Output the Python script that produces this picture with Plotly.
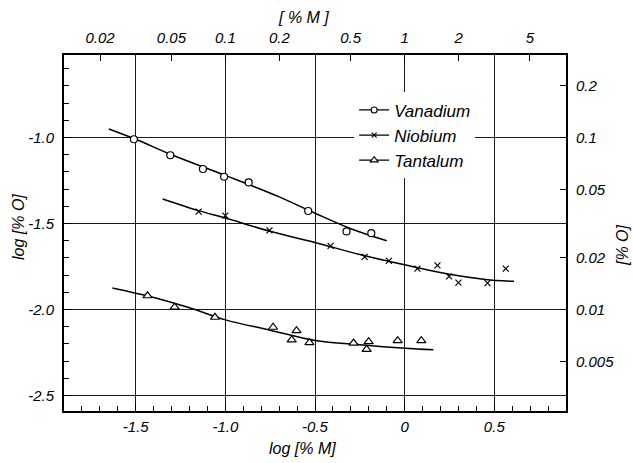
import numpy as np
import plotly.graph_objects as go

# ---- data ----
van_x = [-1.51, -1.307, -1.125, -1.007, -0.870, -0.538, -0.324, -0.186]
van_y = [-1.01, -1.103, -1.183, -1.228, -1.261, -1.427, -1.546, -1.556]
van_curve_x = [-1.65, -1.5, -1.3, -1.0, -0.7, -0.5, -0.3, -0.1]
van_curve_y = [-0.95, -1.01, -1.10, -1.22, -1.345, -1.44, -1.53, -1.60]

nb_x = [-1.149, -1.0, -0.754, -0.413, -0.223, -0.088, 0.071, 0.183, 0.248, 0.30, 0.462, 0.564]
nb_y = [-1.431, -1.454, -1.540, -1.630, -1.694, -1.717, -1.762, -1.743, -1.807, -1.844, -1.846, -1.762]
nb_curve_x = [-1.35, -1.15, -1.0, -0.75, -0.5, -0.25, 0.0, 0.25, 0.45, 0.61]
nb_curve_y = [-1.357, -1.425, -1.468, -1.545, -1.61, -1.68, -1.74, -1.795, -1.825, -1.836]

ta_x = [-1.434, -1.283, -1.058, -0.734, -0.603, -0.63, -0.531, -0.285, -0.201, -0.212, -0.039, 0.093]
ta_y = [-1.920, -1.986, -2.045, -2.103, -2.123, -2.177, -2.193, -2.195, -2.187, -2.232, -2.181, -2.181]
ta_curve_x = [-1.63, -1.4, -1.2, -1.0, -0.75, -0.5, -0.25, 0.0, 0.16]
ta_curve_y = [-1.875, -1.93, -1.99, -2.06, -2.12, -2.18, -2.205, -2.225, -2.234]

bottom_ticks = [-1.5, -1.0, -0.5, 0.0, 0.5]
bottom_text = ["-1.5", "-1.0", "-0.5", "0", "0.5"]
left_ticks = [-1.0, -1.5, -2.0, -2.5]
left_text = ["-1.0", "-1.5", "-2.0", "-2.5"]
top_vals = [0.02, 0.05, 0.1, 0.2, 0.5, 1, 2, 5]
top_text = ["0.02", "0.05", "0.1", "0.2", "0.5", "1", "2", "5"]
right_vals = [0.2, 0.1, 0.05, 0.02, 0.01, 0.005]
right_text = ["0.2", "0.1", "0.05", "0.02", "0.01", "0.005"]

XR = [-1.9, 0.9]
YR = [-2.59, -0.52]
FONT = "Liberation Sans"

fig = go.Figure()

def curve(x, y):
    fig.add_trace(go.Scatter(x=x, y=y, mode="lines", showlegend=False, hoverinfo="skip",
                             line=dict(color="black", width=1.5, shape="spline")))

def pts(x, y, symbol, size, fill="white"):
    fig.add_trace(go.Scatter(x=x, y=y, mode="markers", showlegend=False,
                             marker=dict(symbol=symbol, size=size, color=fill,
                                         line=dict(color="black", width=1.2))))

curve(van_curve_x, van_curve_y)
curve(nb_curve_x, nb_curve_y)
curve(ta_curve_x, ta_curve_y)
pts(van_x, van_y, "circle", 7)
pts(nb_x, nb_y, "x-thin", 6, "black")
pts(ta_x, ta_y, "triangle-up", 8)

# legend entries
for name, sym, size, fill in [("Vanadium", "circle", 6, "white"),
                              ("Niobium", "x-thin", 5, "black"),
                              ("Tantalum", "triangle-up", 7, "white")]:
    fig.add_trace(go.Scatter(x=[None], y=[None], mode="lines+markers", name=name,
                             line=dict(color="black", width=1.2),
                             marker=dict(symbol=sym, size=size, color=fill,
                                         line=dict(color="black", width=1.1))))

# helper trace for secondary axes
fig.add_trace(go.Scatter(x=[None], y=[None], xaxis="x2", yaxis="y2",
                         showlegend=False, hoverinfo="skip"))

tickfont = dict(family=FONT, size=15, color="black", style="italic")

fig.update_layout(
    width=633, height=463,
    margin=dict(l=64, r=67, t=55, b=52),
    paper_bgcolor="white", plot_bgcolor="white",
    font=dict(family=FONT, size=15, color="black", style="italic"),
    xaxis=dict(range=XR, tickvals=bottom_ticks, ticktext=bottom_text, ticks="inside",
               ticklen=7, tickcolor="black", showgrid=True, gridcolor="#1a1a1a", gridwidth=1,
               showline=True, linecolor="black", linewidth=2, zeroline=False,
               tickfont=tickfont, ticklabelstandoff=1,
               minor=dict(dtick=0.1, tick0=0, ticks="inside", ticklen=5, tickcolor="black",
                          showgrid=False)),
    yaxis=dict(range=YR, tickvals=left_ticks, ticktext=left_text, ticks="inside",
               ticklen=7, tickcolor="black", showgrid=True, gridcolor="#1a1a1a", gridwidth=1,
               showline=True, linecolor="black", linewidth=2, zeroline=False,
               tickfont=tickfont, ticklabelstandoff=5,
               minor=dict(dtick=0.1, tick0=0, ticks="inside", ticklen=5, tickcolor="black",
                          showgrid=False)),
    xaxis2=dict(range=XR, overlaying="x", side="top",
                tickvals=[float(np.log10(v)) for v in top_vals], ticktext=top_text,
                ticks="inside", ticklen=6, tickcolor="black", showgrid=False,
                showline=True, linecolor="black", linewidth=2, zeroline=False,
                tickfont=tickfont, ticklabelstandoff=4),
    yaxis2=dict(range=YR, overlaying="y", side="right",
                tickvals=[float(np.log10(v)) for v in right_vals], ticktext=right_text,
                ticks="inside", ticklen=6, tickcolor="black", showgrid=False,
                showline=True, linecolor="black", linewidth=2, zeroline=False,
                tickfont=tickfont, ticklabelstandoff=5),
    legend=dict(x=0.578, y=0.895, xanchor="left", yanchor="top",
                bgcolor="white", borderwidth=0,
                font=dict(family=FONT, size=17, color="black", style="italic"),
                itemwidth=30, tracegroupgap=2),
    showlegend=True,
)

ann = dict(showarrow=False, xref="paper", yref="paper", xanchor="center", yanchor="middle",
           font=dict(family=FONT, size=16, color="black", style="italic"))
fig.add_annotation(text="[ % M ]", x=(303 - 64) / 502, y=(411 - 18) / 356, **ann)
fig.add_annotation(text="log [% M]", x=(302 - 64) / 502, y=(411 - 448) / 356, **ann)
fig.add_annotation(text="log [% O]", x=(19 - 64) / 502, y=(411 - 227) / 356, textangle=-90, **ann)
fig.add_annotation(text="[% O]", x=(622 - 64) / 502, y=(411 - 245) / 356, textangle=-90, **ann)

fig.write_html("out.html")
